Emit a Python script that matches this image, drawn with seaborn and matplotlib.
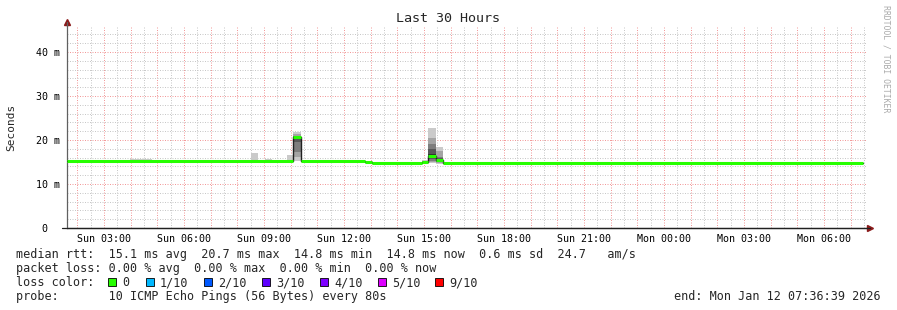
import matplotlib
matplotlib.use("Agg")
import matplotlib.pyplot as plt
import matplotlib.dates as mdates
from matplotlib.patches import Rectangle
from matplotlib.ticker import MultipleLocator, FuncFormatter
import pandas as pd
import seaborn as sns

# ---------------- data ----------------
start_time = "2026-01-11 01:36:39"
end_time = "2026-01-12 07:36:39"

median_times = ["2026-01-11 01:36:39", "2026-01-11 10:05:00", "2026-01-11 10:23:00",
                "2026-01-11 12:47:00", "2026-01-11 13:03:00", "2026-01-11 14:55:00",
                "2026-01-11 15:09:00", "2026-01-11 15:27:00", "2026-01-11 15:43:00",
                "2026-01-12 07:27:00"]
median_ms = [15.2, 20.6, 15.2, 15.0, 14.7, 14.9, 16.4, 15.4, 14.7, 14.7]

smoke_start = ["2026-01-11 03:58", "2026-01-11 08:30", "2026-01-11 09:02",
               "2026-01-11 09:52", "2026-01-11 10:05", "2026-01-11 14:55",
               "2026-01-11 15:09", "2026-01-11 15:27", "2026-01-11 19:54"]
smoke_end = ["2026-01-11 04:48", "2026-01-11 08:46", "2026-01-11 09:18",
             "2026-01-11 10:05", "2026-01-11 10:23", "2026-01-11 15:09",
             "2026-01-11 15:27", "2026-01-11 15:43", "2026-01-11 20:46"]
smoke_pings = [
    [15.1, 15.2, 15.2, 15.2, 15.2, 15.2, 15.2, 15.2, 15.3, 15.7],
    [15.1, 15.2, 15.2, 15.2, 15.2, 15.2, 15.2, 15.2, 15.3, 17.0],
    [15.1, 15.2, 15.2, 15.2, 15.2, 15.2, 15.2, 15.2, 15.3, 15.6],
    [15.1, 15.2, 15.2, 15.2, 15.2, 15.2, 15.2, 15.3, 15.5, 16.6],
    [15.3, 16.2, 17.3, 19.5, 20.4, 20.6, 20.8, 21.0, 21.4, 21.9],
    [14.7, 14.8, 14.9, 14.9, 14.9, 14.9, 15.0, 15.1, 15.2, 15.4],
    [14.8, 15.0, 15.2, 15.6, 16.3, 16.8, 17.9, 19.1, 20.4, 22.7],
    [14.5, 14.7, 14.9, 15.1, 15.3, 15.6, 15.9, 16.2, 17.4, 18.5],
    [14.6, 14.7, 14.7, 14.7, 14.7, 14.7, 14.7, 14.7, 14.8, 14.95],
]

y_ticks = [0, 10, 20, 30, 40]
y_tick_labels = ["0  ", "10 m", "20 m", "30 m", "40 m"]

loss_labels = ["0", "1/10", "2/10", "3/10", "4/10", "5/10", "9/10"]
loss_colors = ["#26ff00", "#00b8ff", "#0059ff", "#5e00ff", "#7e00ff", "#dd00ff", "#ff0000"]

title = "Last 30 Hours"
line_rtt = "median rtt:  15.1 ms avg  20.7 ms max  14.8 ms min  14.8 ms now  0.6 ms sd  24.7   am/s"
line_loss = "packet loss: 0.00 % avg  0.00 % max  0.00 % min  0.00 % now"
line_probe = "probe:       10 ICMP Echo Pings (56 Bytes) every 80s"
line_end = "end: Mon Jan 12 07:36:39 2026"

# ---------------- style ----------------
sns.set_style("white")
plt.rcParams["font.family"] = ["DejaVu Sans Mono", "DejaVu Sans"]

W, H = 897, 310
def fx(px):
    return px / W
def fy(py):
    return 1 - py / H

fig = plt.figure(figsize=(W / 100, H / 100), dpi=100)
fig.patch.set_facecolor("white")
ax = fig.add_axes([fx(67), fy(228), (867 - 67) / W, (228 - 26) / H])
ax.set_facecolor("white")

t0 = pd.Timestamp(start_time)
t1 = pd.Timestamp(end_time)

# smoke
shades = ["#cacaca", "#a4a4a4", "#7e7e7e", "#585858", "#323232"]
for s, e, p in zip(smoke_start, smoke_end, smoke_pings):
    ps = sorted(p)
    xs = [pd.Timestamp(s), pd.Timestamp(e)]
    for i in range(5):
        ax.fill_between(xs, [ps[i]] * 2, [ps[9 - i]] * 2, color=shades[i], lw=0, zorder=2)

# median: dark step line then green segments
times = pd.to_datetime(median_times, format="mixed")
df = pd.DataFrame({"time": times, "median": median_ms})
sns.lineplot(data=df, x="time", y="median", drawstyle="steps-post",
             color="#202020", lw=1.0, ax=ax, zorder=3)
for i in range(len(median_ms) - 1):
    ax.hlines(median_ms[i], times[i], times[i + 1], color=loss_colors[0], lw=2.2, zorder=4)

ax.set_xlim(t0, t1)
ax.set_ylim(0, 45.9)

# grid
dot = (0, (1, 1.5))
ax.xaxis.set_major_locator(mdates.HourLocator(interval=1))
ax.xaxis.set_minor_locator(mdates.MinuteLocator(byminute=[30]))
def xfmt(v, pos):
    d = mdates.num2date(v)
    return d.strftime("%a %H:%M") if d.hour % 3 == 0 else ""
ax.xaxis.set_major_formatter(FuncFormatter(xfmt))
ax.yaxis.set_minor_locator(MultipleLocator(2))
ax.set_yticks(y_ticks)
ax.set_yticklabels(y_tick_labels)

ax.grid(True, which="minor", color="#c8c8c8", lw=0.72, linestyle=dot, zorder=0)
ax.grid(True, which="major", color="#f29a9a", lw=0.72, linestyle=dot, zorder=0)
ax.set_axisbelow(True)

ax.tick_params(axis="x", which="major", length=3, width=0.7, color="#a0a0a0",
               pad=1, labelsize=7.2, labelcolor="#000000")
ax.tick_params(axis="x", which="minor", length=0)
ax.tick_params(axis="y", which="both", length=0, pad=5, labelsize=7.2, labelcolor="#000000")
ax.set_xlabel("")
ax.set_ylabel("")

for sp in ["top", "right"]:
    ax.spines[sp].set_visible(False)
ax.spines["left"].set_color("#606060")
ax.spines["bottom"].set_color("#202020")
ax.spines["left"].set_linewidth(0.9)
ax.spines["bottom"].set_linewidth(0.9)

# arrows
ax.plot([0], [1.02], marker="^", color="#8b1a1a", ms=4, transform=ax.transAxes, clip_on=False)
ax.plot([0, 0], [1.0, 1.02], color="#606060", lw=0.9, transform=ax.transAxes, clip_on=False)
ax.plot([1.004], [0], marker=">", color="#8b1a1a", ms=4, transform=ax.transAxes, clip_on=False)
ax.plot([-0.006, 1.004], [0, 0], color="#202020", lw=0.9, transform=ax.transAxes, clip_on=False)

# texts
fig.text(fx(448), fy(19), title, ha="center", va="center", fontsize=9.6)
fig.text(fx(11), fy(127), "Seconds", rotation=90, ha="center", va="center", fontsize=8)
fig.text(fx(886), fy(5), "RRDTOOL / TOBI OETIKER", rotation=270, ha="center", va="top",
         fontsize=5.9, color="#aaaaaa")

fs = 8.45
fig.text(fx(16), fy(258), line_rtt, ha="left", va="baseline", fontsize=fs)
fig.text(fx(16), fy(272), line_loss, ha="left", va="baseline", fontsize=fs)
fig.text(fx(16), fy(286), "loss color:", ha="left", va="baseline", fontsize=fs)
fig.text(fx(16), fy(300), line_probe, ha="left", va="baseline", fontsize=fs)
fig.text(fx(881), fy(300), line_end, ha="right", va="baseline", fontsize=fs)

box_x = [108, 146, 204, 262, 320, 378, 435]
for bx, lab, col in zip(box_x, loss_labels, loss_colors):
    fig.patches.append(Rectangle((fx(bx), fy(286)), 8 / W, 8 / H, transform=fig.transFigure,
                                 facecolor=col, edgecolor="#000000", lw=0.6))
    fig.text(fx(bx + 14), fy(286), lab, ha="left", va="baseline", fontsize=fs)

fig.savefig("out.png", dpi=100, facecolor="white")
